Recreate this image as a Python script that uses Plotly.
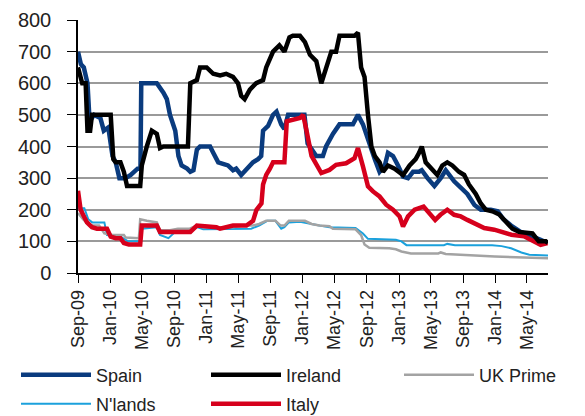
import plotly.graph_objects as go


# -------------------------------------------------
# Data
# -------------------------------------------------

spain_dates = [
    "2009-09-01", "2009-09-12", "2009-09-23", "2009-10-07", "2009-10-15", "2009-11-01",
    "2009-11-25", "2009-12-08", "2009-12-25", "2010-01-10", "2010-01-22", "2010-02-05",
    "2010-02-28", "2010-03-20", "2010-04-15", "2010-04-26", "2010-04-29", "2010-06-27",
    "2010-07-22", "2010-08-04", "2010-08-16", "2010-09-05", "2010-09-17", "2010-09-29",
    "2010-10-20", "2010-11-01", "2010-11-13", "2010-11-26", "2010-12-08", "2011-01-15",
    "2011-01-27", "2011-02-15", "2011-03-05", "2011-03-24", "2011-04-12", "2011-04-24",
    "2011-05-13", "2011-06-02", "2011-06-27", "2011-07-16", "2011-07-28", "2011-08-04",
    "2011-08-23", "2011-09-11", "2011-09-24", "2011-10-12", "2011-10-24", "2011-11-07",
    "2012-01-08", "2012-01-20", "2012-02-22", "2012-03-18", "2012-03-30", "2012-04-25",
    "2012-05-20", "2012-07-10", "2012-07-29", "2012-08-17", "2012-09-12", "2012-10-01",
    "2012-10-19", "2012-11-08", "2012-11-20", "2012-12-09", "2012-12-28", "2013-01-16",
    "2013-02-04", "2013-02-23", "2013-03-18", "2013-03-28", "2013-04-19", "2013-05-15",
    "2013-06-08", "2013-06-27", "2013-07-29", "2013-08-23", "2013-09-17", "2013-10-14",
    "2013-11-07", "2013-12-15", "2014-01-10", "2014-02-01", "2014-03-02", "2014-04-07",
    "2014-05-29", "2014-06-22", "2014-07-18",
]
spain_values = [
    700, 660, 650, 600, 480, 500,
    490, 450, 460, 370, 350, 300,
    300, 310, 330, 330, 600, 600,
    570, 550, 500, 450, 370, 340,
    330, 320, 325, 390, 400, 400,
    380, 350, 345, 340, 325, 330,
    310, 330, 350, 360, 370, 450,
    465, 500, 510, 470, 455, 500,
    500, 410, 370, 370, 400, 440,
    470, 470, 500, 470, 400, 360,
    320, 340, 380, 370, 340, 305,
    300, 320, 320, 325, 300, 275,
    300, 325, 290, 270, 250, 215,
    200, 200, 195, 170, 150, 130,
    115, 105, 95,
]

ireland_dates = [
    "2009-09-01", "2009-09-17", "2009-09-30", "2009-10-07", "2009-10-17", "2009-10-24",
    "2010-01-03", "2010-01-13", "2010-01-22", "2010-02-09", "2010-02-22", "2010-03-06",
    "2010-04-25", "2010-05-01", "2010-05-20", "2010-06-08", "2010-06-27", "2010-07-09",
    "2010-07-22", "2010-10-23", "2010-11-01", "2010-11-26", "2010-12-08", "2011-01-02",
    "2011-01-27", "2011-02-22", "2011-03-17", "2011-04-12", "2011-05-01", "2011-05-13",
    "2011-05-26", "2011-06-15", "2011-07-09", "2011-08-04", "2011-08-16", "2011-09-11",
    "2011-10-05", "2011-10-24", "2011-11-12", "2011-11-25", "2011-12-22", "2012-01-10",
    "2012-01-29", "2012-02-22", "2012-03-12", "2012-03-31", "2012-04-19", "2012-05-07",
    "2012-05-20", "2012-07-16", "2012-07-29", "2012-08-10", "2012-08-23", "2012-09-05",
    "2012-09-18", "2012-10-01", "2012-10-19", "2012-11-01", "2012-11-20", "2012-12-15",
    "2013-01-16", "2013-02-10", "2013-03-05", "2013-03-18", "2013-03-28", "2013-04-12",
    "2013-05-07", "2013-05-26", "2013-06-14", "2013-07-03", "2013-07-22", "2013-08-16",
    "2013-09-05", "2013-09-23", "2013-10-19", "2013-11-07", "2013-11-26", "2013-12-21",
    "2014-01-16", "2014-02-10", "2014-03-07", "2014-04-01", "2014-05-22", "2014-06-15",
    "2014-07-12", "2014-07-20",
]
ireland_values = [
    650, 600, 600, 450, 450, 500,
    500, 360, 350, 350, 320, 275,
    275, 340, 400, 450, 440, 395,
    400, 400, 600, 610, 650, 650,
    630, 625, 630, 620, 600, 560,
    550, 580, 600, 610, 650, 700,
    720, 700, 745, 750, 750, 730,
    690, 670, 600, 650, 700, 700,
    750, 750, 760, 650, 620, 500,
    400, 370, 350, 320, 340, 330,
    310, 340, 360, 380, 400, 350,
    330, 310, 340, 350, 340, 320,
    310, 280, 250, 220, 200, 195,
    185, 160, 140, 130, 125, 100,
    100, 95,
]

uk_dates = [
    "2009-09-01", "2009-09-20", "2009-10-15", "2009-11-20", "2009-12-10", "2010-01-10",
    "2010-02-22", "2010-03-01", "2010-04-20", "2010-04-25", "2010-05-20", "2010-06-27",
    "2010-07-09", "2010-08-16", "2010-09-15", "2010-10-30", "2010-11-26", "2010-12-20",
    "2011-04-12", "2011-05-20", "2011-06-27", "2011-07-20", "2011-08-16", "2011-09-20",
    "2011-10-10", "2011-10-24", "2011-11-10", "2012-01-10", "2012-02-04", "2012-03-05",
    "2012-04-12", "2012-04-25", "2012-07-20", "2012-08-10", "2012-08-23", "2012-09-10",
    "2012-11-25", "2012-12-20", "2013-01-10", "2013-02-15", "2013-05-30", "2013-06-08",
    "2013-06-27", "2013-10-30", "2013-12-30", "2014-07-20",
]
uk_values = [
    190, 170, 150, 150, 125, 120,
    120, 112, 110, 170, 165, 160,
    135, 135, 140, 140, 150, 145,
    145, 150, 150, 155, 165, 165,
    150, 150, 165, 165, 155, 150,
    148, 140, 138, 120, 90, 80,
    78, 75, 68, 62, 62, 65,
    60, 55, 52, 47,
]

nl_dates = [
    "2009-09-01", "2009-09-25", "2009-10-10", "2009-10-25", "2009-12-10", "2009-12-20",
    "2010-02-10", "2010-03-10", "2010-04-25", "2010-05-01", "2010-06-27", "2010-07-09",
    "2010-08-10", "2010-09-05", "2010-11-10", "2010-11-26", "2010-12-20", "2011-04-12",
    "2011-06-20", "2011-07-20", "2011-08-20", "2011-09-20", "2011-10-12", "2011-10-24",
    "2011-11-10", "2011-12-22", "2012-01-29", "2012-03-05", "2012-04-12", "2012-07-20",
    "2012-08-17", "2012-09-05", "2012-12-20", "2013-01-10", "2013-01-29", "2013-06-20",
    "2013-07-03", "2013-08-01", "2013-12-20", "2014-01-25", "2014-03-02", "2014-04-10",
    "2014-05-10", "2014-07-20",
]
nl_values = [
    205, 205, 170, 160, 160, 120,
    115, 100, 100, 140, 145, 120,
    110, 130, 135, 145, 138, 138,
    140, 150, 165, 165, 140, 145,
    160, 162, 155, 150, 145, 142,
    125, 108, 105, 100, 88, 88,
    92, 88, 88, 85, 78, 65,
    58, 55,
]

italy_dates = [
    "2009-09-01", "2009-09-11", "2009-10-05", "2009-10-24", "2009-11-12", "2009-12-20",
    "2010-01-03", "2010-01-22", "2010-02-09", "2010-02-22", "2010-03-13", "2010-04-25",
    "2010-05-01", "2010-06-27", "2010-07-09", "2010-11-01", "2010-11-26", "2011-02-08",
    "2011-02-22", "2011-03-17", "2011-04-12", "2011-06-02", "2011-06-27", "2011-07-10",
    "2011-07-29", "2011-08-04", "2011-08-16", "2011-08-30", "2011-09-11", "2011-10-24",
    "2011-11-02", "2011-12-22", "2012-01-03", "2012-01-16", "2012-02-04", "2012-03-12",
    "2012-04-12", "2012-05-07", "2012-06-14", "2012-07-16", "2012-07-29", "2012-08-17",
    "2012-09-05", "2012-09-24", "2012-10-19", "2012-11-13", "2012-12-09", "2013-01-03",
    "2013-01-16", "2013-02-04", "2013-03-01", "2013-04-04", "2013-04-23", "2013-05-18",
    "2013-06-07", "2013-07-03", "2013-07-29", "2013-08-23", "2013-09-17", "2013-10-27",
    "2013-11-20", "2013-12-28", "2014-01-24", "2014-03-03", "2014-04-20", "2014-05-29",
    "2014-06-22", "2014-07-18",
]
italy_values = [
    260, 200, 160, 145, 140, 140,
    115, 110, 110, 95, 90, 90,
    150, 150, 130, 130, 150, 145,
    140, 145, 150, 150, 165, 200,
    220, 280, 310, 330, 350, 350,
    480, 490, 500, 450, 370, 316,
    326, 342, 347, 363, 395, 337,
    274, 258, 242, 216, 200, 179,
    147, 179, 200, 210, 190, 168,
    184, 200, 184, 179, 168, 153,
    142, 137, 131, 121, 116, 100,
    89, 95,
]


# -------------------------------------------------
# Figure
# -------------------------------------------------

# the page body has an 8px margin, so the figure is 8px smaller each way
W, H = 577, 408

# drawn back to front; each series gets its own legend box
# (name, dates, values, colour, width, legend id, legend x px, legend row y px)
series = [
    ("N'lands", nl_dates, nl_values, "#1ba1dc", 2, "legend4", 8, 396),
    ("UK Prime", uk_dates, uk_values, "#a3a3a3", 2.5, "legend3", 391, 367),
    ("Spain", spain_dates, spain_values, "#0a3b7e", 4.5, "legend", 8, 367),
    ("Italy", italy_dates, italy_values, "#d6001c", 4.5, "legend5", 198, 396),
    ("Ireland", ireland_dates, ireland_values, "#000000", 4.5, "legend2", 198, 367),
]

font = "Liberation Sans, Arial, sans-serif"

fig = go.Figure()

legends = {}

for name, dates, values, color, width, leg, lx, ly in series:
    fig.add_trace(
        go.Scatter(
            x=dates,
            y=values,
            name=name,
            mode="lines",
            line=dict(color=color, width=width),
            legend=leg,
            showlegend=True,
        )
    )
    legends[leg] = dict(
        xref="container",
        yref="container",
        x=lx / W,
        y=1 - ly / H,
        xanchor="left",
        yanchor="middle",
        orientation="h",
        itemwidth=70,
        bgcolor="rgba(0,0,0,0)",
        font=dict(family=font, size=18, color="#222222"),
    )

fig.update_layout(
    width=W,
    height=H,
    margin=dict(l=70, r=37, t=12, b=143, autoexpand=False),
    paper_bgcolor="white",
    plot_bgcolor="white",
    font=dict(family=font, size=19, color="#222222"),
    showlegend=True,
    **legends,
)

fig.update_xaxes(
    type="date",
    range=["2009-09-01", "2014-07-20"],
    tick0="2009-09-01",
    dtick="M4",
    tickformat="%b-%y",
    tickangle=-90,
    ticks="outside",
    ticklen=8,
    tickcolor="black",
    showline=True,
    linecolor="black",
    linewidth=1.5,
    showgrid=False,
    zeroline=False,
    automargin=False,
    tickfont=dict(size=18),
)

fig.update_yaxes(
    range=[0, 800],
    dtick=100,
    ticks="outside",
    ticklen=9,
    tickcolor="black",
    showline=True,
    linecolor="black",
    linewidth=1.5,
    showgrid=True,
    gridcolor="#9a9a9a",
    gridwidth=1.5,
    zeroline=False,
    automargin=False,
    ticklabelstandoff=12,
    tickfont=dict(size=20),
)

fig.write_html("out.html")
